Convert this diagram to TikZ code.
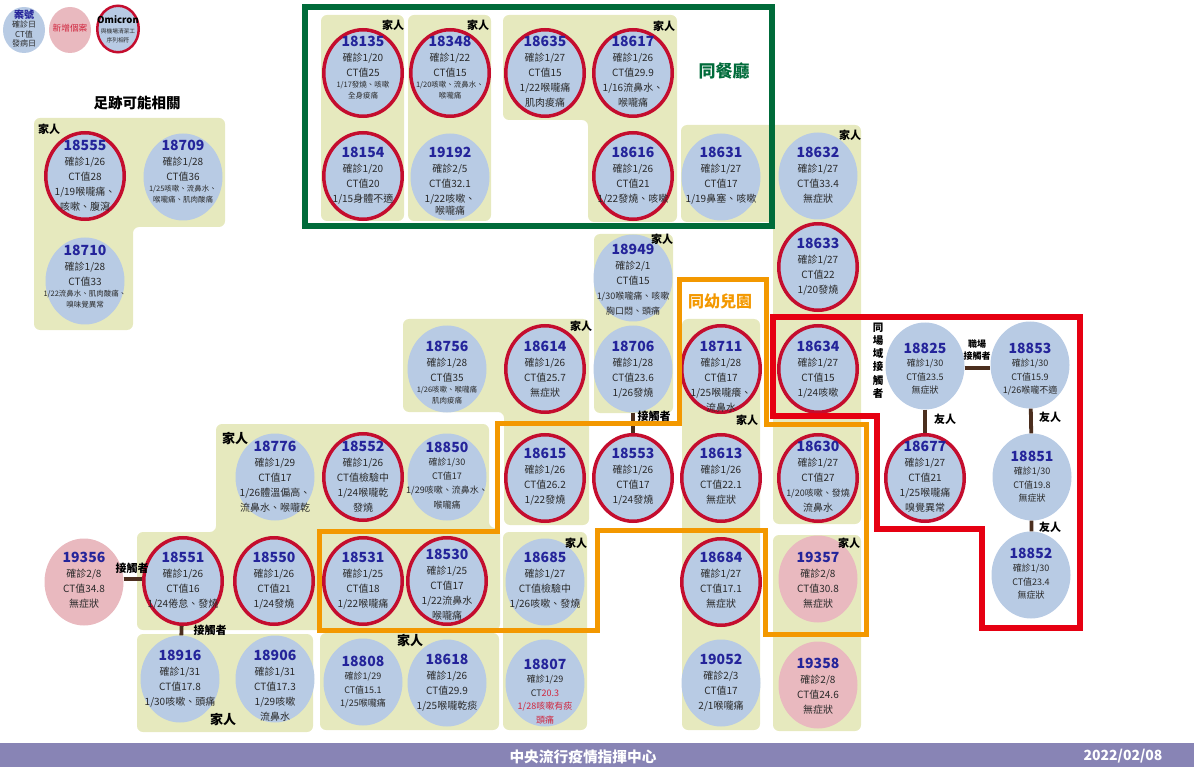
\documentclass[tikz,border=0pt]{standalone}
\usepackage{fontspec}
\setmainfont{Noto Sans CJK TC}
\usetikzlibrary{shapes.geometric}
\definecolor{panelc}{HTML}{E6E9BE}
\definecolor{bluec}{HTML}{B8CBE4}
\definecolor{pinkc}{HTML}{E9B9BF}
\definecolor{ringc}{HTML}{C40D2E}
\definecolor{numc}{HTML}{24249A}
\definecolor{txtc}{HTML}{2A2A2A}
\definecolor{orangec}{HTML}{F39800}
\definecolor{redboxc}{HTML}{E60012}
\definecolor{greenc}{HTML}{006B3A}
\definecolor{linkc}{HTML}{4B2E1E}
\definecolor{footc}{HTML}{8884B5}
\definecolor{alertc}{HTML}{D0243C}
\tikzset{
  x=1pt,y=-1pt,
  panel/.style={fill=panelc,rounded corners=6pt},
  bluecase/.style={ellipse,fill=bluec,inner sep=0pt,minimum width=79pt,minimum height=87pt},
  pinkcase/.style={ellipse,fill=pinkc,inner sep=0pt,minimum width=79pt,minimum height=87pt},
  ringcase/.style={ellipse,fill=bluec,draw=ringc,line width=3.5pt,inner sep=0pt,minimum width=78.5pt,minimum height=86.5pt},
  casetext/.style={anchor=north,inner sep=0pt,text=txtc},
  link/.style={draw=linkc,line width=3.8pt},
  lab/.style={inner sep=0pt,text=black,font=\fontsize{11}{11}\selectfont\bfseries},
  bigLab/.style={inner sep=0pt,text=black,font=\fontsize{13}{13}\selectfont\bfseries},
  smLab/.style={inner sep=0pt,text=black,font=\fontsize{9}{9}\selectfont\bfseries},
  box/.style={line width=#1,line join=miter},
}
\newcommand{\setline}[3]{\baselineskip=#1pt\relax\hbox to 0pt{\hss\smash{\fontsize{#2}{#2}\selectfont #3}\hss}}
\newcommand{\titleline}[1]{\hbox to 0pt{\hss\smash{\fontsize{14}{14}\selectfont\bfseries\color{numc}#1}\hss}}
\newcommand{\normline}[2][15]{\setline{#1}{10}{#2}}
\newcommand{\midline}[2][13.5]{\setline{#1}{9}{#2}}
\newcommand{\smline}[2][11]{\setline{#1}{7.5}{#2}}
\newcommand{\casenode}[6]{%
  \node[#4] (c#1) at (#2,#3) {};
  \node[casetext] (t#1) at (#2,#5+5) {\vtop{\titleline{#1}#6}};}
\begin{document}
\begin{tikzpicture}
\useasboundingbox (0,0) rectangle (1194,767);
% panels
\fill[panel] (34,118)--(225,118)--(225,227)--(133,227)--(133,330)--(34,330)--cycle;
\fill[panel] (321,15) rectangle (404,221);
\fill[panel] (408,15) rectangle (491,221);
\fill[panel] (503,15)--(677,15)--(677,222)--(588,222)--(588,120)--(503,120)--cycle;
\fill[panel] (681,125)--(861,125)--(861,524)--(773,524)--(773,222)--(681,222)--cycle;
\fill[panel] (773,535) rectangle (861,731);
\fill[panel] (594,234) rectangle (673,413);
\fill[panel] (403,319)--(589,319)--(589,525)--(504,525)--(504,412)--(403,412)--cycle;
\fill[panel] (503,532) rectangle (587,730);
\fill[panel] (320,633) rectangle (499,730);
\fill[panel] (137,532)--(216,532)--(216,424)--(489,424)--(489,528)--(500,528)--(500,630)--(137,630)--cycle;
\fill[panel] (137,634) rectangle (313,732);
\fill[panel] (682,319) rectangle (760,730);
% footer
\fill[footc] (0,743) rectangle (1194,767);
% legend
\node[ellipse,fill=bluec,inner sep=0pt,minimum width=42pt,minimum height=46pt] (legA) at (24,30) {};
\node[casetext] (legAt) at (24,18) {\vtop{\hbox to 0pt{\hss\smash{\fontsize{10}{10}\selectfont\bfseries\color{numc}案號}\hss}\setline{9.5}{8}{確診日}\setline{9.5}{8}{CT值}\setline{9.5}{8}{發病日}}};
\node[ellipse,fill=pinkc,inner sep=0pt,minimum width=42pt,minimum height=46pt] (legB) at (70,30) {};
\node[inner sep=0pt,text=alertc,font=\fontsize{8.7}{9}\selectfont] (legBt) at (70,28) {新增個案};
\node[ellipse,fill=bluec,draw=ringc,line width=2.5pt,inner sep=0pt,minimum width=41.5pt,minimum height=46.5pt] (legC) at (118,29) {};
\node[casetext] (legCt) at (118,23.5) {\vtop{\hbox to 0pt{\hss\smash{\fontsize{9.5}{10}\selectfont\bfseries\color{black}Omicron}\hss}\setline{9.5}{5.7}{與機場清潔工}\setline{9.5}{5.7}{序列相符}}};
% cases
\casenode{18135}{363}{73}{ringcase}{41}{\normline{確診1/20}\normline{CT值25}\smline{1/17發燒、咳嗽}\smline{全身痠痛}}
\casenode{18348}{450}{73}{ringcase}{41}{\normline{確診1/22}\normline{CT值15}\smline{1/20咳嗽、流鼻水、}\smline{喉嚨痛}}
\casenode{18635}{545}{73}{ringcase}{41}{\normline{確診1/27}\normline{CT值15}\normline{1/22喉嚨痛}\normline{肌肉痠痛}}
\casenode{18617}{633}{73}{ringcase}{41}{\normline{確診1/26}\normline{CT值29.9}\normline{1/16流鼻水、}\normline{喉嚨痛}}
\casenode{18154}{363}{176}{ringcase}{152}{\normline{確診1/20}\normline{CT值20}\normline{1/15身體不適}}
\casenode{19192}{450}{177}{bluecase}{152}{\normline{確診2/5}\normline{CT值32.1}\normline{1/22咳嗽、}\normline[12.5]{喉嚨痛}}
\casenode{18616}{633}{176}{ringcase}{152}{\normline{確診1/26}\normline{CT值21}\normline{1/22發燒、咳嗽}}
\casenode{18631}{721}{177}{bluecase}{152}{\normline{確診1/27}\normline{CT值17}\normline{1/19鼻塞、咳嗽}}
\casenode{18632}{818}{176}{bluecase}{152}{\normline{確診1/27}\normline{CT值33.4}\normline{無症狀}}
\casenode{18633}{818}{267}{ringcase}{243}{\normline{確診1/27}\normline{CT值22}\normline{1/20發燒}}
\casenode{18634}{818}{369}{ringcase}{346}{\normline{確診1/27}\normline{CT值15}\normline{1/24咳嗽}}
\casenode{18825}{925}{366}{bluecase}{348}{\midline{確診1/30}\midline{CT值23.5}\midline{無症狀}}
\casenode{18853}{1030}{365}{bluecase}{348}{\midline{確診1/30}\midline{CT值15.9}\midline{1/26喉嚨不適}}
\casenode{18677}{925}{478}{ringcase}{446}{\normline{確診1/27}\normline{CT值21}\normline{1/25喉嚨痛}\normline{嗅覺異常}}
\casenode{18851}{1032}{477}{bluecase}{456}{\midline{確診1/30}\midline{CT值19.8}\midline{無症狀}}
\casenode{18852}{1031}{575}{bluecase}{553}{\midline{確診1/30}\midline{CT值23.4}\midline{無症狀}}
\casenode{18630}{818}{478}{ringcase}{446}{\normline{確診1/27}\normline{CT值27}\midline[15]{1/20咳嗽、發燒}\normline{流鼻水}}
\casenode{19357}{818}{579}{pinkcase}{557}{\normline{確診2/8}\normline{CT值30.8}\normline{無症狀}}
\casenode{19358}{818}{685}{pinkcase}{663}{\normline{確診2/8}\normline{CT值24.6}\normline{無症狀}}
\casenode{18949}{633}{278}{bluecase}{249}{\normline{確診2/1}\normline{CT值15}\midline[15]{1/30喉嚨痛、咳嗽}\midline[15]{胸口悶、頭痛}}
\casenode{18756}{447}{369}{bluecase}{346}{\normline{確診1/28}\normline{CT值35}\smline{1/26咳嗽、喉嚨痛}\smline{肌肉痠痛}}
\casenode{18614}{545}{369}{ringcase}{346}{\normline{確診1/26}\normline{CT值25.7}\normline{無症狀}}
\casenode{18706}{633}{369}{bluecase}{346}{\normline{確診1/28}\normline{CT值23.6}\normline{1/26發燒}}
\casenode{18711}{721}{369}{ringcase}{346}{\normline{確診1/28}\normline{CT值17}\normline{1/25喉嚨癢、}\normline{流鼻水}}
\casenode{18615}{545}{478}{ringcase}{453}{\normline{確診1/26}\normline{CT值26.2}\normline{1/22發燒}}
\casenode{18553}{633}{478}{ringcase}{453}{\normline{確診1/26}\normline{CT值17}\normline{1/24發燒}}
\casenode{18613}{721}{478}{ringcase}{453}{\normline{確診1/26}\normline{CT值22.1}\normline{無症狀}}
\casenode{18776}{275}{477}{bluecase}{446}{\normline{確診1/29}\normline{CT值17}\normline{1/26體溫偏高、}\normline{流鼻水、喉嚨乾}}
\casenode{18552}{363}{477}{ringcase}{446}{\normline{確診1/26}\normline{CT值檢驗中}\normline{1/24喉嚨乾}\normline{發燒}}
\casenode{18850}{447}{477}{bluecase}{447}{\midline{確診1/30}\midline{CT值17}\midline[14.5]{1/29咳嗽、流鼻水、}\midline[14.5]{喉嚨痛}}
\casenode{19356}{84}{582}{pinkcase}{557}{\normline{確診2/8}\normline{CT值34.8}\normline{無症狀}}
\casenode{18551}{183}{581}{ringcase}{557}{\normline{確診1/26}\normline{CT值16}\normline{1/24倦怠、發燒}}
\casenode{18550}{274}{581}{ringcase}{557}{\normline{確診1/26}\normline{CT值21}\normline{1/24發燒}}
\casenode{18531}{363}{581}{ringcase}{557}{\normline{確診1/25}\normline{CT值18}\normline{1/22喉嚨痛}}
\casenode{18530}{447}{581}{ringcase}{554}{\normline{確診1/25}\normline{CT值17}\normline{1/22流鼻水}\normline{喉嚨痛}}
\casenode{18916}{180}{679}{bluecase}{655}{\normline{確診1/31}\normline{CT值17.8}\normline{1/30咳嗽、頭痛}}
\casenode{18906}{275}{679}{bluecase}{655}{\normline{確診1/31}\normline{CT值17.3}\normline{1/29咳嗽}\normline{流鼻水}}
\casenode{18808}{363}{682}{bluecase}{661}{\midline{確診1/29}\midline{CT值15.1}\midline{1/25喉嚨痛}}
\casenode{18618}{447}{683}{bluecase}{659}{\normline{確診1/26}\normline{CT值29.9}\normline{1/25喉嚨乾痰}}
\casenode{18685}{545}{582}{bluecase}{557}{\normline{確診1/27}\normline{CT值檢驗中}\normline{1/26咳嗽、發燒}}
\casenode{18807}{545}{683}{bluecase}{664}{\midline{確診1/29}\midline{CT{\color{alertc}20.3}}\midline{\color{alertc}1/28咳嗽有痰}\midline{\color{alertc}頭痛}}
\casenode{18684}{721}{582}{ringcase}{557}{\normline{確診1/27}\normline{CT值17.1}\normline{無症狀}}
\casenode{19052}{721}{683}{bluecase}{659}{\normline{確診2/3}\normline{CT值17}\normline{2/1喉嚨痛}}
\casenode{18555}{85}{176}{ringcase}{145}{\normline{確診1/26}\normline{CT值28}\normline{1/19喉嚨痛、}\normline{咳嗽、腹瀉}}
\casenode{18709}{183}{177}{bluecase}{145}{\normline{確診1/28}\normline{CT值36}\smline{1/25咳嗽、流鼻水、}\smline{喉嚨痛、肌肉酸痛}}
\casenode{18710}{85}{281}{bluecase}{250}{\normline{確診1/28}\normline{CT值33}\smline{1/22流鼻水、肌肉酸痛、}\smline{嗅味覺異常}}
% connectors
\draw[link] ([yshift=3pt]c19356.east) -- ([yshift=2pt]c18551.west);
\draw[link] (c18551) -- (c18916);
\draw[link] (c18706) -- (c18553);
\draw[link] ([yshift=-2pt]c18825.east) -- ([yshift=-3pt]c18853.west);
\draw[link] (c18825) -- (c18677);
\draw[link] (c18853) -- (c18851);
\draw[link] (c18851) -- (c18852);
% frames
\draw[greenc,box=6pt] (305,7) rectangle (772,226);
\draw[orangec,box=5pt] (679,280)--(766,280)--(766,424)--(866,424)--(866,634)--(765,634)--(765,530)--(597,530)--(597,630)--(319,630)--(319,531)--(497,531)--(497,423)--(679,423)--cycle;
\draw[redboxc,box=6pt] (773,317)--(1080,317)--(1080,628)--(982,628)--(982,529)--(877,529)--(877,416)--(773,416)--cycle;
% labels
\node[lab] (fam1) at (393,25) {家人};
\node[lab] (fam2) at (478,25) {家人};
\node[lab] (fam3) at (664,26) {家人};
\node[lab] (fam4) at (49,129) {家人};
\node[lab] (fam5) at (850,135) {家人};
\node[lab] (fam6) at (662,239) {家人};
\node[lab] (fam7) at (581,326) {家人};
\node[lab] (fam8) at (747,420) {家人};
\node[lab] (fam9) at (849,543) {家人};
\node[lab] (fam10) at (576,543) {家人};
\node[bigLab] (fam11) at (235,438) {家人};
\node[bigLab] (fam12) at (410,640) {家人};
\node[bigLab] (fam13) at (223,719) {家人};
\node[lab] (con1) at (132,568) {接觸者};
\node[lab] (con2) at (210,630) {接觸者};
\node[lab] (con3) at (654,416) {接觸者};
\node[smLab] (work1) at (977,344) {職場};
\node[smLab] (work2) at (977,356) {接觸者};
\node[casetext,text=black] (same) at (878,331) {\vtop{\hbox to 0pt{\hss\smash{\fontsize{10.5}{11}\selectfont\bfseries 同}\hss}\setline{13.2}{10.5}{\bfseries 場}\setline{13.2}{10.5}{\bfseries 域}\setline{13.2}{10.5}{\bfseries 接}\setline{13.2}{10.5}{\bfseries 觸}\setline{13.2}{10.5}{\bfseries 者}}};
\node[lab] (fr1) at (945,419) {友人};
\node[lab] (fr2) at (1050,417) {友人};
\node[lab] (fr3) at (1050,527) {友人};
\node[inner sep=0pt,text=greenc,font=\fontsize{17}{17}\selectfont\bfseries] (tgreen) at (724,71) {同餐廳};
\node[inner sep=0pt,text=orangec,font=\fontsize{16}{16}\selectfont\bfseries] (torange) at (720,301) {同幼兒園};
\node[inner sep=0pt,text=black,font=\fontsize{14.5}{15}\selectfont\bfseries] (ttrack) at (137,103) {足跡可能相關};
\node[inner sep=0pt,text=white,font=\fontsize{14.7}{15}\selectfont\bfseries] (foot1) at (583,757) {中央流行疫情指揮中心};
\node[inner sep=0pt,text=white,font=\fontsize{14}{14}\selectfont\bfseries] (foot2) at (1123,756) {2022/02/08};
\end{tikzpicture}
\end{document}
